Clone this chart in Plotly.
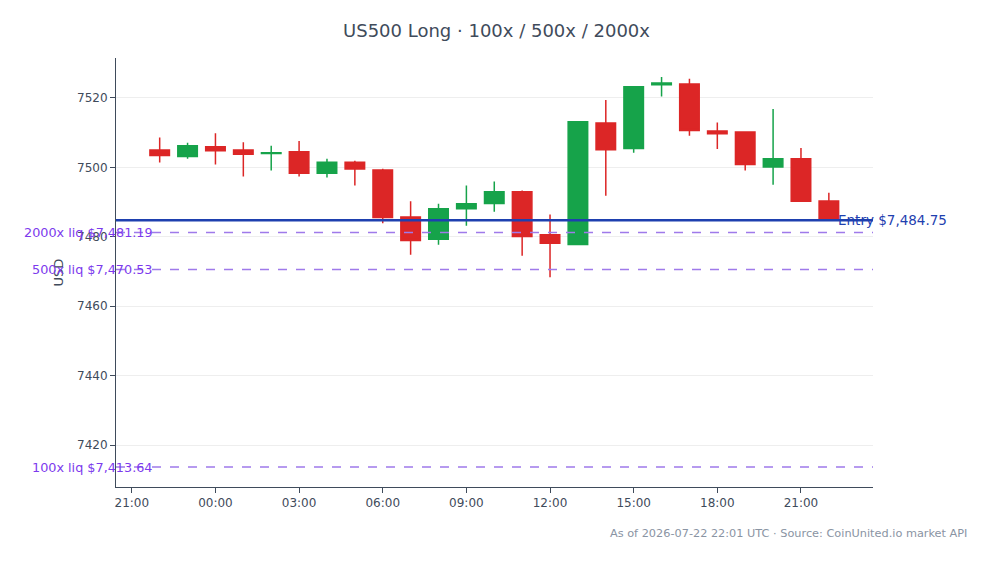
import plotly.graph_objects as go

times = [
    "2026-07-21 22:00", "2026-07-21 23:00", "2026-07-22 00:00", "2026-07-22 01:00",
    "2026-07-22 02:00", "2026-07-22 03:00", "2026-07-22 04:00", "2026-07-22 05:00",
    "2026-07-22 06:00", "2026-07-22 07:00", "2026-07-22 08:00", "2026-07-22 09:00",
    "2026-07-22 10:00", "2026-07-22 11:00", "2026-07-22 12:00", "2026-07-22 13:00",
    "2026-07-22 14:00", "2026-07-22 15:00", "2026-07-22 16:00", "2026-07-22 17:00",
    "2026-07-22 18:00", "2026-07-22 19:00", "2026-07-22 20:00", "2026-07-22 21:00",
    "2026-07-22 22:00",
]
opens = [7505.0, 7503.1, 7505.9, 7505.0, 7504.0, 7504.5, 7498.3, 7501.5, 7499.2, 7485.7,
         7479.3, 7488.1, 7489.6, 7492.95, 7480.6, 7477.8, 7512.8, 7505.4, 7523.8, 7524.0,
         7510.5, 7510.2, 7500.1, 7502.45, 7490.3]
highs = [7508.6, 7507.05, 7509.8, 7507.25, 7506.2, 7507.6, 7502.45, 7501.9, 7499.6, 7490.2,
         7489.5, 7494.8, 7495.9, 7493.3, 7486.4, 7513.3, 7519.4, 7523.3, 7526.0, 7525.5,
         7512.9, 7510.3, 7516.8, 7505.6, 7492.7]
lows = [7501.4, 7502.5, 7500.8, 7497.35, 7499.1, 7497.35, 7497.1, 7494.8, 7483.9, 7474.8,
        7477.7, 7483.2, 7487.2, 7474.5, 7468.3, 7477.6, 7491.8, 7504.2, 7520.4, 7509.1,
        7505.3, 7499.1, 7495.0, 7490.1, 7484.6]
closes = [7503.4, 7506.2, 7504.8, 7503.8, 7504.2, 7498.3, 7501.5, 7499.5, 7485.55, 7478.9,
          7488.05, 7489.5, 7492.95, 7480.1, 7478.1, 7513.1, 7505.1, 7523.2, 7524.3, 7510.6,
          7509.7, 7500.8, 7502.45, 7490.2, 7484.75]

entry_price = 7484.75
liq_labels = ["2000x", "500x", "100x"]
liq_prices = [7481.19, 7470.53, 7413.64]

title_text = "US500 Long · 100x / 500x / 2000x"
footer_text = "As of 2026-07-22 22:01 UTC · Source: CoinUnited.io market API"

GREEN = "#16a34a"
RED = "#dc2626"
PURPLE_LINE = "#9f7aea"
PURPLE_TEXT = "#7c3aed"
BLUE = "#1e40af"
SLATE = "#3f4b5b"

fig = go.Figure()
fig.add_trace(go.Candlestick(
    x=times, open=opens, high=highs, low=lows, close=closes,
    increasing=dict(line=dict(color=GREEN, width=1.5), fillcolor=GREEN),
    decreasing=dict(line=dict(color=RED, width=1.5), fillcolor=RED),
    showlegend=False, name="US500",
))

fig.add_hline(y=entry_price, line=dict(color=BLUE, width=2.5))
for lab, p in zip(liq_labels, liq_prices):
    fig.add_hline(y=p, line=dict(color=PURPLE_LINE, width=1.5, dash="dash"))
    fig.add_annotation(
        x=0.049, xref="paper", y=p, yref="y", xanchor="right", yanchor="middle",
        xshift=2, text=f"{lab} liq ${p:,.2f}", showarrow=False,
        font=dict(color=PURPLE_TEXT, size=12.8),
    )

fig.add_annotation(
    x=0.954, xref="paper", y=entry_price, yref="y", xanchor="left", yanchor="middle",
    xshift=-2, text=f"Entry ${entry_price:,.2f}", showarrow=False,
    font=dict(color=BLUE, size=13.5),
)

fig.add_annotation(
    x=(969 - 116) / 757, xref="paper", y=-(533 - 487) / 429, yref="paper",
    xanchor="right", yanchor="middle", showarrow=False, text=footer_text,
    font=dict(color="#8a94a3", size=11.3),
)

fig.update_layout(
    width=993, height=564,
    margin=dict(l=116, r=120, t=58, b=77),
    paper_bgcolor="white", plot_bgcolor="white",
    boxgap=0.3, boxgroupgap=0,
    font=dict(family="DejaVu Sans", color=SLATE, size=13),
    title=dict(text=title_text, x=0.5, xanchor="center", y=1 - 31 / 564, yanchor="middle",
               font=dict(size=18, color=SLATE)),
    xaxis=dict(
        range=["2026-07-21 20:26", "2026-07-22 23:35"],
        rangeslider=dict(visible=False),
        tickformat="%H:%M", dtick=3 * 3600000, tick0="2026-07-21 21:00",
        showgrid=False, showline=True, linecolor=SLATE, linewidth=1,
        ticks="outside", ticklen=5, tickcolor=SLATE,
        tickfont=dict(size=12, color=SLATE),
    ),
    yaxis=dict(
        range=[7407.9, 7531.5],
        title=dict(text="USD", font=dict(size=13, color=SLATE), standoff=10),
        tickvals=[7420, 7440, 7460, 7480, 7500, 7520],
        showgrid=True, gridcolor="#eeeeee", zeroline=False,
        showline=True, linecolor=SLATE, linewidth=1,
        ticks="outside", ticklen=5, tickcolor=SLATE,
        tickfont=dict(size=12, color=SLATE),
    ),
)

fig.write_html("out.html")
